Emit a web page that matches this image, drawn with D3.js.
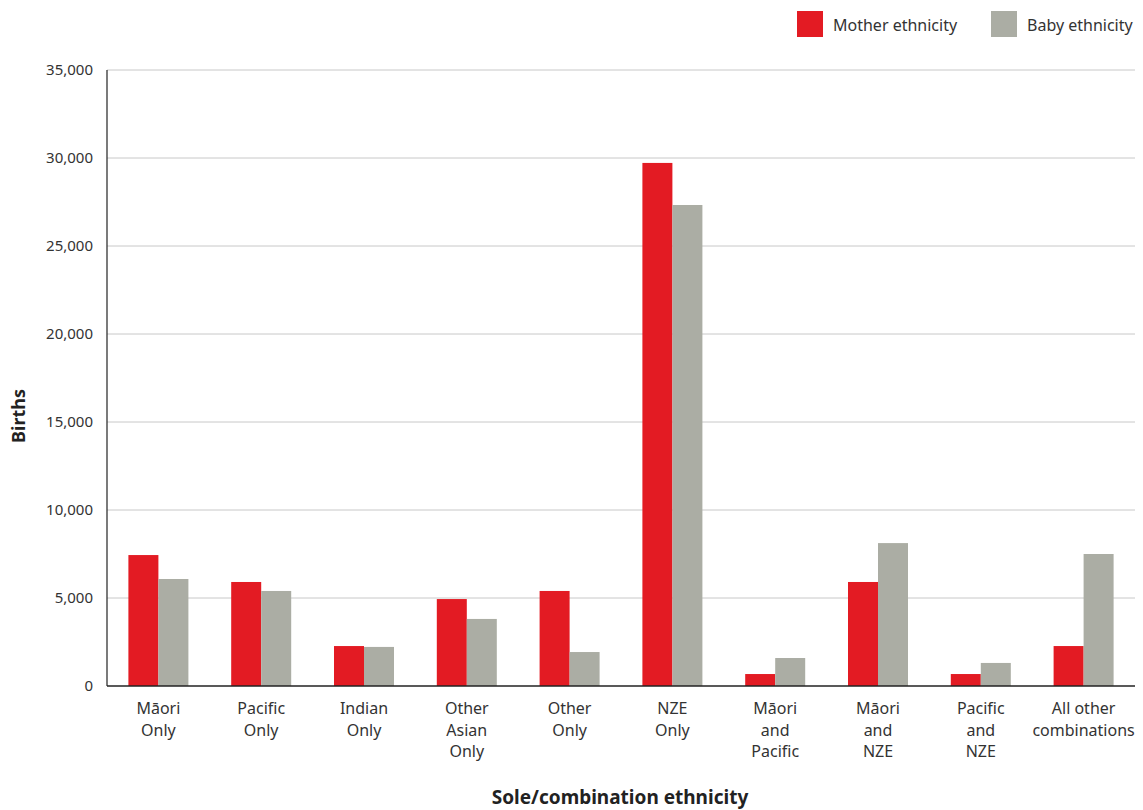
<!DOCTYPE html>
<html>
<head>
<meta charset="utf-8">
<script src="https://cdn.jsdelivr.net/npm/d3@7"></script>
<style>
  html, body { margin: 0; padding: 0; background: #fff; }
  svg { display: block; font-family: "Noto Sans", "Open Sans", sans-serif; }
</style>
</head>
<body>
<svg id="chart" width="1143" height="810"></svg>
<script>
// Births by sole/combination ethnicity
const categories = [
  ["Māori", "Only"],
  ["Pacific", "Only"],
  ["Indian", "Only"],
  ["Other", "Asian", "Only"],
  ["Other", "Only"],
  ["NZE", "Only"],
  ["Māori", "and", "Pacific"],
  ["Māori", "and", "NZE"],
  ["Pacific", "and", "NZE"],
  ["All other", "combinations"]
];
const motherValues = [7440, 5910, 2270, 4940, 5400, 29720, 680, 5910, 680, 2270];
const babyValues   = [6080, 5400, 2220, 3810, 1930, 27330, 1590, 8120, 1310, 7500];
const seriesNames = ["Mother ethnicity", "Baby ethnicity"];
const seriesColors = ["#e31b23", "#abada4"];
const yTicks = [0, 5000, 10000, 15000, 20000, 25000, 30000, 35000];

const svg = d3.select("#chart");
const margin = { left: 107, right: 8, top: 70, bottom: 124 };
const W = 1143, H = 810;
const plotW = W - margin.left - margin.right;
const plotH = H - margin.top - margin.bottom;
const textColor = "#333";

const g = svg.append("g").attr("transform", `translate(${margin.left},${margin.top})`);

const x = d3.scaleBand().domain(d3.range(categories.length)).range([0, plotW]).paddingInner(0).paddingOuter(0);
const xInner = d3.scaleBand().domain([0, 1]).range([0, 60]);
const y = d3.scaleLinear().domain([0, 35000]).range([plotH, 0]);

// gridlines
g.append("g")
  .selectAll("line")
  .data(yTicks.filter(d => d > 0))
  .join("line")
  .attr("x1", 0).attr("x2", plotW)
  .attr("y1", d => y(d)).attr("y2", d => y(d))
  .attr("stroke", "#c8c8c8").attr("stroke-width", 1);

// y axis labels
const yAxis = d3.axisLeft(y).tickValues(yTicks).tickFormat(d3.format(",")).tickSize(0).tickPadding(14);
const yg = g.append("g").call(yAxis);
yg.select(".domain").remove();
yg.selectAll("text")
  .attr("font-size", 15)
  .attr("fill", textColor)
  .attr("font-family", "Noto Sans, Open Sans, sans-serif");

// bars
const series = [motherValues, babyValues];
const groups = g.append("g")
  .selectAll("g")
  .data(categories.map((c, i) => i))
  .join("g")
  .attr("transform", i => `translate(${x(i) + x.bandwidth() / 2 - 30},0)`);

groups.selectAll("rect")
  .data(i => series.map((s, k) => ({ k, v: s[i] })))
  .join("rect")
  .attr("x", d => xInner(d.k))
  .attr("width", xInner.bandwidth())
  .attr("y", d => y(d.v))
  .attr("height", d => plotH - y(d.v))
  .attr("fill", d => seriesColors[d.k]);

// axis lines
g.append("line").attr("x1", 0).attr("x2", 0).attr("y1", 0).attr("y2", plotH)
  .attr("stroke", "#222").attr("stroke-width", 1.2);
g.append("line").attr("x1", 0).attr("x2", plotW).attr("y1", plotH).attr("y2", plotH)
  .attr("stroke", "#222").attr("stroke-width", 1.5);

// x category labels
const xl = g.append("g")
  .selectAll("text")
  .data(categories)
  .join("text")
  .attr("x", (d, i) => x(i) + x.bandwidth() / 2)
  .attr("y", plotH + 28)
  .attr("text-anchor", "middle")
  .attr("font-size", 16)
  .attr("fill", textColor);
xl.selectAll("tspan")
  .data(d => d)
  .join("tspan")
  .attr("x", function () { return d3.select(this.parentNode).attr("x"); })
  .attr("dy", (d, j) => j === 0 ? 0 : 21.5)
  .text(d => d);

// axis titles
svg.append("text")
  .attr("transform", `translate(25,${margin.top + plotH / 2 + 38}) rotate(-90)`)
  .attr("text-anchor", "middle")
  .attr("font-size", 18)
  .attr("font-weight", "bold")
  .attr("fill", "#222")
  .text("Births");

svg.append("text")
  .attr("x", 620)
  .attr("y", 804)
  .attr("text-anchor", "middle")
  .attr("font-size", 19)
  .attr("font-weight", "bold")
  .attr("fill", "#222")
  .text("Sole/combination ethnicity");

// legend
const legendX = [797, 991];
const legend = svg.append("g")
  .selectAll("g")
  .data(seriesNames)
  .join("g")
  .attr("transform", (d, i) => `translate(${legendX[i]},11)`);
legend.append("rect").attr("width", 26).attr("height", 26).attr("fill", (d, i) => seriesColors[i]);
legend.append("text")
  .attr("x", 36).attr("y", 19.5)
  .attr("font-size", 16)
  .attr("fill", textColor)
  .text(d => d);
</script>
</body>
</html>
